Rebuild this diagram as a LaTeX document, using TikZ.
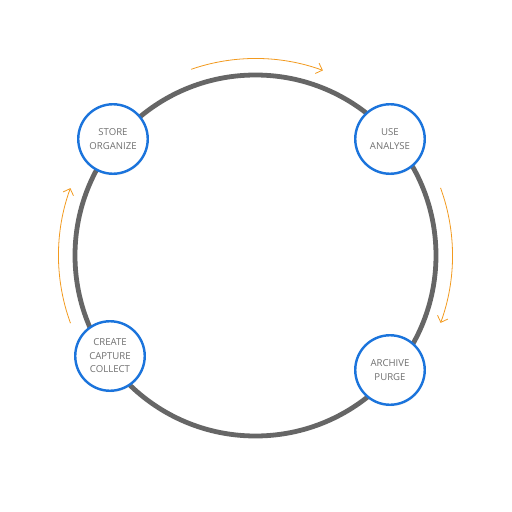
\documentclass[tikz,border=0pt]{standalone}
\usepackage{fontspec}
\setmainfont{Open Sans}
\usetikzlibrary{arrows.meta, shadows}
\definecolor{ringgray}{HTML}{666666}
\definecolor{stageblue}{HTML}{1B74DC}
\definecolor{labelgray}{HTML}{707070}
\definecolor{floworange}{HTML}{F29A1F}
\begin{document}
\begin{tikzpicture}[x=1pt, y=1pt, line join=round, line cap=round,
		stage/.style={circle, draw=stageblue, line width=2.4pt, fill=white, minimum size=69.5pt, inner sep=0pt,
			align=center, text=labelgray, font=\fontsize{9.6}{13.5}\selectfont,
			drop shadow={opacity=0.12, shadow xshift=0.6pt, shadow yshift=-1.6pt}},
		flow/.style={draw=floworange, line width=0.8pt, -{Straight Barb[length=5.5pt, width=11pt]}}]
	\def\rring{180.5}
	\def\rflow{197}
	\useasboundingbox (-255.5, -256.5) rectangle (256.5, 255.5);
	% life cycle ring
	\draw[ringgray, line width=4.8pt] (0, 0) circle (\rring);
	% stages
	\node[stage] (store) at (-142.5, 116.5) {STORE\\ORGANIZE};
	\node[stage] (use) at (134.5, 116.5) {USE\\ANALYSE};
	\node[stage] (create) at (-145.5, -100.5) {CREATE\\CAPTURE\\COLLECT};
	\node[stage] (archive) at (134.5, -114.5) {ARCHIVE\\PURGE};
	% direction arrows
	\coordinate (topflow) at (109:\rflow);
	\coordinate (rightflow) at (20:\rflow);
	\coordinate (leftflow) at (200:\rflow);
	\draw[flow] (topflow) arc[start angle=109, end angle=70, radius=\rflow];
	\draw[flow] (rightflow) arc[start angle=20, end angle=-20, radius=\rflow];
	\draw[flow] (leftflow) arc[start angle=200, end angle=160, radius=\rflow];
\end{tikzpicture}
\end{document}
